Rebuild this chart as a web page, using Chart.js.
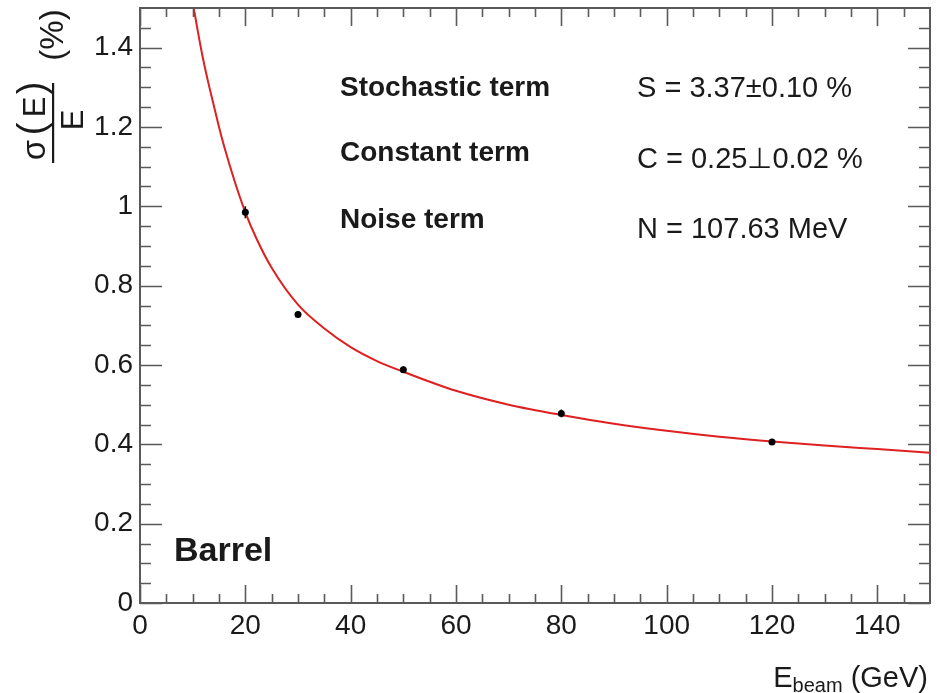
<!DOCTYPE html>
<html>
<head>
<meta charset="utf-8">
<script src="https://cdn.jsdelivr.net/npm/chart.js@4.4.1/dist/chart.umd.min.js"></script>
<style>
  html, body { margin: 0; padding: 0; background: #ffffff; }
  #wrap { width: 937px; height: 693px; }
</style>
</head>
<body>
<div id="wrap"><canvas id="c" width="937" height="693"></canvas></div>
<script>
// Measured energy resolution, barrel calorimeter
const beamEnergy = [20, 30, 50, 80, 120];          // GeV
const resolution = [0.985, 0.727, 0.588, 0.478, 0.406]; // %
const resolutionErr = [0.015, 0.008, 0.008, 0.010, 0.005];

// Fitted resolution curve sampled along the beam energy
const fitEnergy = [10, 11, 12, 13, 14, 15, 16, 18, 20, 22, 25, 30, 35, 40, 45, 50,
                   60, 70, 80, 90, 100, 110, 120, 130, 140, 150];
const fitResolution = [1.515, 1.44, 1.37, 1.31, 1.255, 1.20, 1.15, 1.062, 0.985, 0.922,
                       0.845, 0.752, 0.692, 0.645, 0.61, 0.583, 0.535, 0.50, 0.474,
                       0.452, 0.434, 0.419, 0.407, 0.397, 0.388, 0.379];

// Fit parameters
const termNames = ['Stochastic term', 'Constant term', 'Noise term'];
const termValues = ['S = 3.37\u00b10.10 %', 'C = 0.25\u22a50.02 %', 'N = 107.63 MeV'];
const regionLabel = 'Barrel';

// Axis tick positions
const xMajorTicks = [0, 20, 40, 60, 80, 100, 120, 140];
const xMinorTicks = [5, 10, 15, 25, 30, 35, 45, 50, 55, 65, 70, 75, 85, 90, 95,
                     105, 110, 115, 125, 130, 135, 145];
const yMajorTicks = [0, 0.2, 0.4, 0.6, 0.8, 1.0, 1.2, 1.4];
const yMinorTicks = [0.05, 0.1, 0.15, 0.25, 0.3, 0.35, 0.45, 0.5, 0.55, 0.65, 0.7,
                     0.75, 0.85, 0.9, 0.95, 1.05, 1.1, 1.15, 1.25, 1.3, 1.35, 1.45];

const FONT = "'Liberation Sans', Arial, Helvetica, sans-serif";
const AXIS_COLOR = '#5a5a5a';
const TEXT_COLOR = '#1a1a1a';

Chart.defaults.font.family = FONT;
Chart.defaults.color = TEXT_COLOR;

// Frame with inward ticks on all four sides
const framePlugin = {
  id: 'frame',
  afterDatasetsDraw(chart) {
    const { ctx, chartArea: a, scales: { x, y } } = chart;
    ctx.save();
    ctx.strokeStyle = AXIS_COLOR;
    ctx.lineWidth = 2;
    ctx.strokeRect(a.left, a.top, a.right - a.left, a.bottom - a.top);
    ctx.lineWidth = 1.6;
    ctx.beginPath();
    const xt = (v, len) => {
      const px = Math.round(x.getPixelForValue(v)) + 0.5;
      ctx.moveTo(px, a.bottom); ctx.lineTo(px, a.bottom - len);
      ctx.moveTo(px, a.top); ctx.lineTo(px, a.top + len);
    };
    const yt = (v, len) => {
      const py = Math.round(y.getPixelForValue(v)) + 0.5;
      ctx.moveTo(a.left, py); ctx.lineTo(a.left + len, py);
      ctx.moveTo(a.right, py); ctx.lineTo(a.right - len, py);
    };
    xMajorTicks.forEach(v => xt(v, 18));
    xMinorTicks.forEach(v => xt(v, 9));
    yMajorTicks.forEach(v => yt(v, 22));
    yMinorTicks.forEach(v => yt(v, 11));
    ctx.stroke();
    ctx.restore();
  }
};

// Vertical error bars on the measured points
const errorBarPlugin = {
  id: 'errorBars',
  afterDatasetsDraw(chart) {
    const { ctx, scales: { x, y } } = chart;
    ctx.save();
    ctx.strokeStyle = '#000';
    ctx.lineWidth = 1.5;
    ctx.beginPath();
    beamEnergy.forEach((e, i) => {
      const px = x.getPixelForValue(e);
      ctx.moveTo(px, y.getPixelForValue(resolution[i] - resolutionErr[i]));
      ctx.lineTo(px, y.getPixelForValue(resolution[i] + resolutionErr[i]));
    });
    ctx.stroke();
    ctx.restore();
  }
};

// Axis titles and text annotations
const textPlugin = {
  id: 'texts',
  afterDraw(chart) {
    const { ctx } = chart;
    ctx.save();
    ctx.fillStyle = TEXT_COLOR;

    // fit parameter table
    ctx.textAlign = 'left';
    ctx.textBaseline = 'alphabetic';
    ctx.font = 'bold 28px ' + FONT;
    const leftBase = [96, 161, 228];
    termNames.forEach((t, i) => ctx.fillText(t, 340, leftBase[i]));
    ctx.font = '29px ' + FONT;
    const rightBase = [97, 168, 238];
    termValues.forEach((t, i) => ctx.fillText(t, 637, rightBase[i]));

    // region label
    ctx.font = 'bold 34px ' + FONT;
    ctx.fillText(regionLabel, 174, 561);

    // x-axis title: E_beam (GeV), right aligned with the frame
    ctx.textAlign = 'right';
    ctx.font = '29px ' + FONT;
    ctx.fillText('(GeV)', 928, 687);
    const gevW = ctx.measureText('(GeV) ').width;
    ctx.font = '20px ' + FONT;
    ctx.fillText('beam', 928 - gevW, 692);
    const beamW = ctx.measureText('beam').width;
    ctx.font = '29px ' + FONT;
    ctx.fillText('E', 928 - gevW - beamW, 687);

    // y-axis title: sigma(E)/E (%), rotated
    const glyph = (txt, cx, cy, size) => {
      ctx.save();
      ctx.translate(cx, cy);
      ctx.rotate(-Math.PI / 2);
      ctx.textAlign = 'center';
      ctx.textBaseline = 'middle';
      ctx.font = size + 'px ' + FONT;
      ctx.fillText(txt, 0, 0);
      ctx.restore();
    };
    glyph('\u03c3', 36, 150, 33);
    glyph('(', 34, 129, 38);
    glyph('E', 36, 107, 31);
    glyph(')', 34, 88, 38);
    glyph('E', 74, 120, 31);
    glyph('(%)', 54, 35, 33);
    ctx.fillRect(52, 83, 2.2, 80);

    ctx.restore();
  }
};

new Chart(document.getElementById('c'), {
  type: 'scatter',
  data: {
    datasets: [
      {
        label: 'fit',
        data: fitEnergy.map((e, i) => ({ x: e, y: fitResolution[i] })),
        showLine: true,
        borderColor: 'rgb(222, 32, 32)',
        borderWidth: 2,
        pointRadius: 0,
        cubicInterpolationMode: 'monotone',
        clip: 0,
        order: 2
      },
      {
        label: 'data',
        data: beamEnergy.map((e, i) => ({ x: e, y: resolution[i] })),
        pointRadius: 3.5,
        pointBackgroundColor: '#000',
        pointBorderColor: '#000',
        pointBorderWidth: 0,
        order: 1
      }
    ]
  },
  options: {
    responsive: false,
    animation: false,
    layout: { padding: { top: 8, right: 7, left: 0, bottom: 0 } },
    plugins: { legend: { display: false }, tooltip: { enabled: false } },
    scales: {
      x: {
        type: 'linear',
        min: 0, max: 150,
        grid: { display: false, drawTicks: false },
        border: { display: false },
        ticks: {
          stepSize: 20, includeBounds: false, maxRotation: 0, autoSkip: false,
          padding: 6, color: TEXT_COLOR, font: { size: 28 }
        },
        afterFit(s) { s.height = 90; s.paddingLeft = 0; s.paddingRight = 0; }
      },
      y: {
        type: 'linear',
        min: 0, max: 1.5,
        grid: { display: false, drawTicks: false },
        border: { display: false },
        ticks: {
          stepSize: 0.2, includeBounds: false, autoSkip: false,
          padding: 7, color: TEXT_COLOR, font: { size: 28 },
          callback: v => String(Math.round(v * 10) / 10)
        },
        afterFit(s) { s.width = 140; s.paddingTop = 0; s.paddingBottom = 0; }
      }
    }
  },
  plugins: [framePlugin, errorBarPlugin, textPlugin]
});
</script>
</body>
</html>
